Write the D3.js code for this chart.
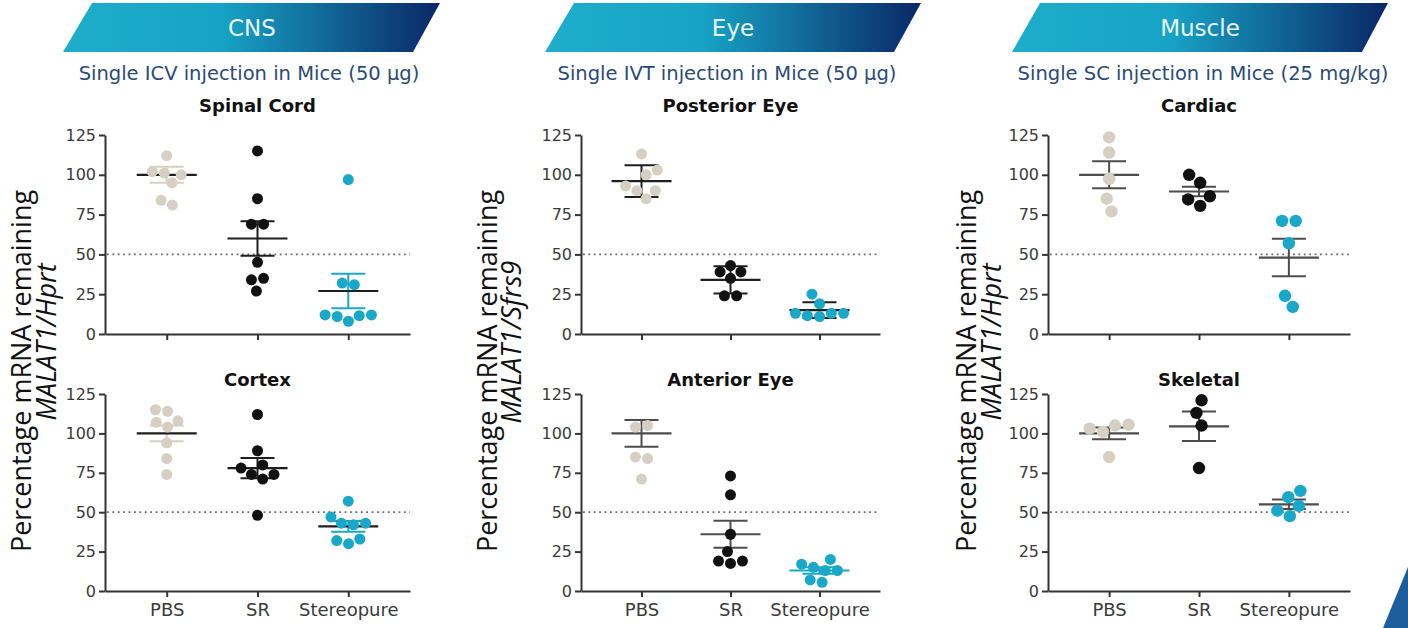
<!DOCTYPE html>
<html>
<head>
<meta charset="utf-8">
<script src="https://cdn.jsdelivr.net/npm/d3@7"></script>
<style>
  html, body { margin: 0; padding: 0; background: #ffffff; }
  svg { display: block; }
</style>
</head>
<body>
<svg id="chart" width="1408" height="628"></svg>
<script>
// ---------- shared labels ----------
const groups = ["PBS", "SR", "Stereopure"];
const yTickValues = [0, 25, 50, 75, 100, 125];
const referenceLevel = 50;

const bannerLabels = ["CNS", "Eye", "Muscle"];
const subtitles = [
  "Single ICV injection in Mice (50 µg)",
  "Single IVT injection in Mice (50 µg)",
  "Single SC injection in Mice (25 mg/kg)"
];
const yTitleMain = "Percentage mRNA remaining";
const yTitleRatio = ["MALAT1/Hprt", "MALAT1/Sfrs9", "MALAT1/Hprt"];
const panelTitles = [["Spinal Cord", "Cortex"], ["Posterior Eye", "Anterior Eye"], ["Cardiac", "Skeletal"]];

// ---------- individual animals (% MALAT1 remaining) ----------
// CNS – spinal cord
const spinalCordPBS    = [112, 102, 100, 101, 95, 84, 81];
const spinalCordSR     = [115, 85, 69, 69, 45, 35, 34, 27];
const spinalCordStereo = [97, 32, 31, 12, 11.5, 8, 11, 12];
const spinalCordMean   = [100, 60, 27];
const spinalCordSEM    = [5, 10.8, 10.8];
// CNS – cortex
const cortexPBS    = [114, 115, 107, 104, 108, 94, 84, 74];
const cortexSR     = [112, 89, 78, 80, 74, 71, 74, 48];
const cortexStereo = [57, 47, 43, 42, 43, 33, 30, 32];
const cortexMean   = [100, 78, 41];
const cortexSEM    = [5, 6.4, 3.4];
// Eye – posterior
const posteriorEyePBS    = [113, 103, 100, 93, 90, 90, 85];
const posteriorEyeSR     = [43, 39, 39, 35, 24, 24];
const posteriorEyeStereo = [25, 19, 13, 13, 11, 11.5, 13];
const posteriorEyeMean   = [96, 34, 15];
const posteriorEyeSEM    = [10, 8.5, 5];
// Eye – anterior
const anteriorEyePBS    = [104, 105, 85, 84, 71];
const anteriorEyeSR     = [73, 61, 36, 19, 17.5, 19, 25];
const anteriorEyeStereo = [20, 13, 15, 13, 17, 5.5, 7];
const anteriorEyeMean   = [100, 36, 13];
const anteriorEyeSEM    = [8.5, 8.5, 2];
// Muscle – cardiac
const cardiacPBS    = [123.5, 114, 97.5, 85, 77];
const cardiacSR     = [100, 95, 86.5, 84.5, 80.5];
const cardiacStereo = [71, 71, 57, 24, 17];
const cardiacMean   = [100, 89.5, 48];
const cardiacSEM    = [8.5, 3, 11.8];
// Muscle – skeletal
const skeletalPBS    = [105.5, 103, 101, 105, 85];
const skeletalSR     = [121, 113, 105, 78];
const skeletalStereo = [63.5, 59.5, 54, 51, 47.5];
const skeletalMean   = [100, 104.5, 55];
const skeletalSEM    = [3.7, 9.4, 3];

// ---------- styling ----------
const BEIGE = "#d6cfc4", BLACK = "#111111", CYAN = "#1aa8c8";
const DARK = "#1e1e1e", GREY = "#4d4d4d";
const dotColors = [BEIGE, BLACK, CYAN];

const columns = [
  { axisX: 105,  width: 305, banner: [63, 92, 440, 413],       bannerText: 252,  subX: 249,  titleX: [31, 56],   dotR: 5.5 },
  { axisX: 581,  width: 299, banner: [545, 574, 921, 894],     bannerText: 733,  subX: 727,  titleX: [497, 521], dotR: 5.5 },
  { axisX: 1048, width: 302, banner: [1012, 1040, 1388, 1362], bannerText: 1200, subX: 1203, titleX: [976, 1001], dotR: 6.2 }
];
const rows = [
  { y0: 334, yTop: 135, titleY: 112, labels: false },
  { y0: 591, yTop: 394, titleY: 386, labels: true }
];

const panels = [
  { col: 0, row: 0, values: [spinalCordPBS, spinalCordSR, spinalCordStereo], mean: spinalCordMean, sem: spinalCordSEM,
    meanColor: [DARK, DARK, DARK], errColor: [BEIGE, DARK, CYAN] },
  { col: 0, row: 1, values: [cortexPBS, cortexSR, cortexStereo], mean: cortexMean, sem: cortexSEM,
    meanColor: [DARK, DARK, DARK], errColor: [BEIGE, DARK, CYAN] },
  { col: 1, row: 0, values: [posteriorEyePBS, posteriorEyeSR, posteriorEyeStereo], mean: posteriorEyeMean, sem: posteriorEyeSEM,
    meanColor: [DARK, DARK, DARK], errColor: [DARK, DARK, DARK] },
  { col: 1, row: 1, values: [anteriorEyePBS, anteriorEyeSR, anteriorEyeStereo], mean: anteriorEyeMean, sem: anteriorEyeSEM,
    meanColor: [GREY, GREY, CYAN], errColor: [GREY, GREY, CYAN] },
  { col: 2, row: 0, values: [cardiacPBS, cardiacSR, cardiacStereo], mean: cardiacMean, sem: cardiacSEM,
    meanColor: [GREY, GREY, GREY], errColor: [GREY, GREY, GREY] },
  { col: 2, row: 1, values: [skeletalPBS, skeletalSR, skeletalStereo], mean: skeletalMean, sem: skeletalSEM,
    meanColor: [GREY, GREY, GREY], errColor: [GREY, GREY, GREY] }
];

const svg = d3.select("#chart");
const defs = svg.append("defs");

// ---------- banner gradient ----------
const grad = defs.append("linearGradient").attr("id", "bannerGrad")
  .attr("x1", "0").attr("x2", "1").attr("y1", "0").attr("y2", "0");
grad.append("stop").attr("offset", "0%").attr("stop-color", "#1eadcb");
grad.append("stop").attr("offset", "42%").attr("stop-color", "#17a3c5");
grad.append("stop").attr("offset", "100%").attr("stop-color", "#0a2767");

// ---------- column headers and axis titles ----------
columns.forEach((c, ci) => {
  const [bl, tl, tr, br] = c.banner;
  svg.append("polygon")
    .attr("points", `${bl},52 ${tl},3 ${tr},3 ${br},52`)
    .attr("fill", "url(#bannerGrad)");
  svg.append("text")
    .attr("x", c.bannerText).attr("y", 36)
    .attr("text-anchor", "middle")
    .attr("font-family", "'DejaVu Sans', Verdana, sans-serif")
    .attr("font-size", 23)
    .attr("fill", "#e8f6fa")
    .text(bannerLabels[ci]);
  svg.append("text")
    .attr("x", c.subX).attr("y", 80)
    .attr("text-anchor", "middle")
    .attr("font-family", "'DejaVu Sans', Verdana, sans-serif")
    .attr("font-size", 19.5)
    .attr("fill", "#2b4a78")
    .text(subtitles[ci]);

  // rotated y-axis title (two lines)
  svg.append("text")
    .attr("transform", `translate(${c.titleX[0]},371) rotate(-90)`)
    .attr("text-anchor", "middle")
    .attr("font-family", "'Open Sans', sans-serif")
    .attr("font-size", 27)
    .attr("fill", "#111")
    .text(yTitleMain);
  svg.append("text")
    .attr("transform", `translate(${c.titleX[1]},342) rotate(-90)`)
    .attr("text-anchor", "middle")
    .attr("font-family", "'Open Sans', sans-serif")
    .attr("font-style", "italic")
    .attr("font-size", 27)
    .attr("fill", "#111")
    .text(yTitleRatio[ci]);
});

// ---------- beeswarm-style horizontal spreading ----------
// Points are placed from the lowest value upward, each at the feasible
// offset closest to the group centre, alternating sides on ties.
function swarmOffsets(vals, y, D) {
  const order = vals.map((v, i) => i).sort((a, b) => vals[a] - vals[b]);
  const placed = [];
  const xs = new Array(vals.length);
  let side = 1;
  order.forEach(i => {
    const yi = y(vals[i]);
    const cands = [0];
    placed.forEach(p => {
      const dy = Math.abs(p.y - yi);
      if (dy < D) {
        const dx = Math.sqrt(D * D - dy * dy);
        cands.push(p.x + dx, p.x - dx);
      }
    });
    const ok = cands.filter(cx => placed.every(p => (p.x - cx) ** 2 + (p.y - yi) ** 2 >= D * D - 0.05));
    ok.sort((a, b) => (Math.abs(a) - Math.abs(b)) || (a - b) * side);
    const x = ok[0];
    if (x !== 0) side = -side;
    placed.push({ x, y: yi, i });
    xs[i] = x;
  });
  // centre each vertically connected cluster on the group position
  const sorted = placed.slice().sort((a, b) => a.y - b.y);
  let cluster = [];
  const flush = () => {
    if (!cluster.length) return;
    const lo = d3.min(cluster, p => p.x), hi = d3.max(cluster, p => p.x);
    const shift = (lo + hi) / 2;
    cluster.forEach(p => { xs[p.i] = p.x - shift; });
    cluster = [];
  };
  sorted.forEach((p, k) => {
    if (k > 0 && p.y - sorted[k - 1].y >= D) flush();
    cluster.push(p);
  });
  flush();
  return xs;
}

// ---------- panels ----------
panels.forEach((p) => {
  const c = columns[p.col], r = rows[p.row];
  const x = d3.scalePoint().domain(groups).range([c.axisX, c.axisX + c.width]).padding(0.68);
  const y = d3.scaleLinear().domain([0, 125]).range([r.y0, r.yTop]);
  const g = svg.append("g");

  // panel title
  g.append("text")
    .attr("x", c.axisX + c.width / 2).attr("y", r.titleY)
    .attr("text-anchor", "middle")
    .attr("font-family", "'DejaVu Sans', Verdana, sans-serif")
    .attr("font-weight", "bold")
    .attr("font-size", 18)
    .attr("fill", "#111")
    .text(panelTitles[p.col][p.row]);

  // y axis
  const yAxis = g.append("g")
    .attr("transform", `translate(${c.axisX},0)`)
    .call(d3.axisLeft(y).tickValues(yTickValues).tickSize(6).tickSizeOuter(0).tickPadding(3));
  // x axis
  const xAxis = g.append("g")
    .attr("transform", `translate(0,${r.y0})`)
    .call(d3.axisBottom(x).tickSize(6).tickSizeOuter(0).tickPadding(6)
      .tickFormat(r.labels ? (d => d) : () => ""));

  [yAxis, xAxis].forEach(a => {
    a.select(".domain").attr("stroke", "#333").attr("stroke-width", 2);
    a.selectAll(".tick line").attr("stroke", "#333").attr("stroke-width", 2);
    a.selectAll(".tick text")
      .attr("fill", "#3a3a3a")
      .attr("font-family", "'DejaVu Sans', Verdana, sans-serif");
  });
  yAxis.selectAll(".tick text").attr("font-size", 16);
  xAxis.selectAll(".tick text").attr("font-size", 18);

  // 50 % reference line
  g.append("line")
    .attr("x1", c.axisX + 2).attr("x2", c.axisX + c.width)
    .attr("y1", y(referenceLevel)).attr("y2", y(referenceLevel))
    .attr("stroke", "#6a6a6a").attr("stroke-width", 1.8)
    .attr("stroke-dasharray", "1.8,3.6");

  // mean ± SEM
  groups.forEach((grp, gi) => {
    const cx = x(grp);
    const m = p.mean[gi], s = p.sem[gi];
    const err = g.append("g").attr("stroke", p.errColor[gi]).attr("stroke-width", 2);
    err.append("line").attr("x1", cx).attr("x2", cx).attr("y1", y(m - s)).attr("y2", y(m + s));
    err.append("line").attr("x1", cx - 17).attr("x2", cx + 17).attr("y1", y(m + s)).attr("y2", y(m + s));
    err.append("line").attr("x1", cx - 17).attr("x2", cx + 17).attr("y1", y(m - s)).attr("y2", y(m - s));
    g.append("line")
      .attr("x1", cx - 30).attr("x2", cx + 30)
      .attr("y1", y(m)).attr("y2", y(m))
      .attr("stroke", p.meanColor[gi]).attr("stroke-width", 2.2);
  });

  // individual animals
  groups.forEach((grp, gi) => {
    const vals = p.values[gi];
    const offs = swarmOffsets(vals, y, c.dotR * 2 + 1.2);
    g.selectAll(null)
      .data(vals)
      .join("circle")
      .attr("cx", (d, i) => x(grp) + offs[i])
      .attr("cy", d => y(d))
      .attr("r", c.dotR)
      .attr("fill", dotColors[gi]);
  });
});

// corner accent
svg.append("polygon")
  .attr("points", "1408,567 1408,628 1383,628")
  .attr("fill", "#1c5e9b");
</script>
</body>
</html>
